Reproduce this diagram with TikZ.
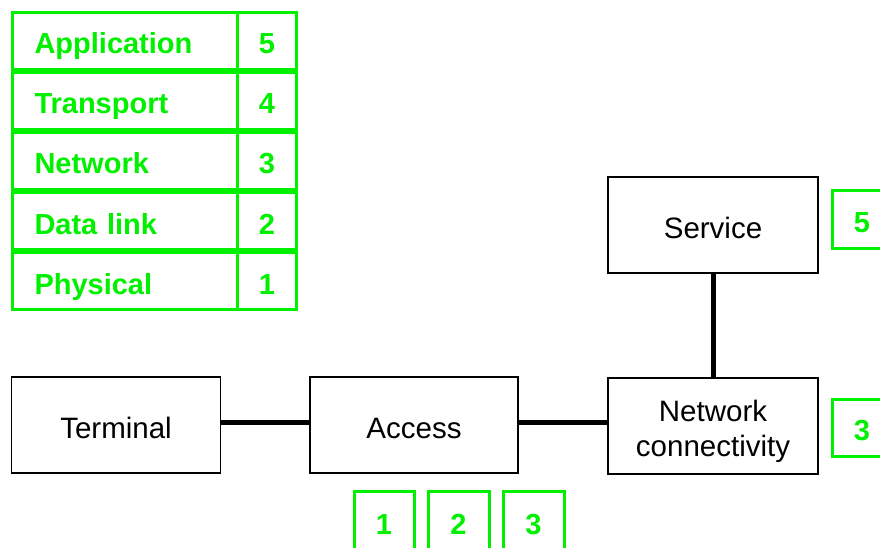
\documentclass[tikz,border=0pt]{standalone}
\usepackage{fontspec}
\setmainfont{Liberation Sans}
\definecolor{lgreen}{HTML}{00F000}
\begin{document}
\begin{tikzpicture}[x=1pt,y=-1pt,
  blk/.style={draw=black,line width=1.5pt,fill=white,inner sep=0pt,align=center,font=\fontsize{29.5}{35}\selectfont},
  blk1/.style={blk,text height=26pt,text depth=0pt},
  blktext/.style={inner sep=0pt,align=center,font=\fontsize{29.5}{35}\selectfont,text depth=0pt},
  grn/.style={draw=lgreen,line width=3pt,inner sep=0pt,text=lgreen,font=\fontsize{29}{32}\selectfont\bfseries,text height=26pt,text depth=0pt},
  lay/.style={grn,anchor=north west,minimum width=225pt,minimum height=57pt,text width=181pt,align=left},
  num/.style={grn,anchor=north west,minimum width=59pt,minimum height=57pt},
  conn/.style={line width=5pt,draw=black}]
\useasboundingbox (0,0) rectangle (880,548);
% layer table
\foreach \t/\n [count=\i from 0] in {Application/5,Transport/4,Network/3,Data link/2,Physical/1}{
  \node[lay] (L\i) at (11,{11+60*\i}) {\t};
  \node[num] (N\i) at (236,{11+60*\i}) {\n};
}
% black boxes
\node[blk1,minimum width=209pt,minimum height=96pt] (term) at (116,425) {Terminal};
\node[blk1,minimum width=208pt,minimum height=96pt] (acc) at (414,425) {Access};
\node[blk,minimum width=210pt,minimum height=96pt] (netc) at (713,426) {};
\node[blktext] (netct) at ([yshift=-2pt]netc.center) {Network\\connectivity};
\node[blk1,minimum width=210pt,minimum height=96pt] (serv) at (713,225) {Service};
\draw[conn] (term.east |- 0,422) -- (acc.west |- 0,422);
\draw[conn] (acc.east |- 0,422) -- (netc.west |- 0,422);
\draw[conn] (serv.south) -- (netc.north);
% green small boxes
\node[grn,minimum width=60pt,minimum height=57pt] (g5) at (862,219.5) {5};
\node[grn,minimum width=60pt,minimum height=57pt] (g3) at (862,427.5) {3};
\node[grn,minimum width=60pt,minimum height=60pt] (b1) at (384,521) {1};
\node[grn,minimum width=61pt,minimum height=60pt] (b2) at (458.5,521) {2};
\node[grn,minimum width=61pt,minimum height=60pt] (b3) at (533.5,521) {3};
\end{tikzpicture}
\end{document}
